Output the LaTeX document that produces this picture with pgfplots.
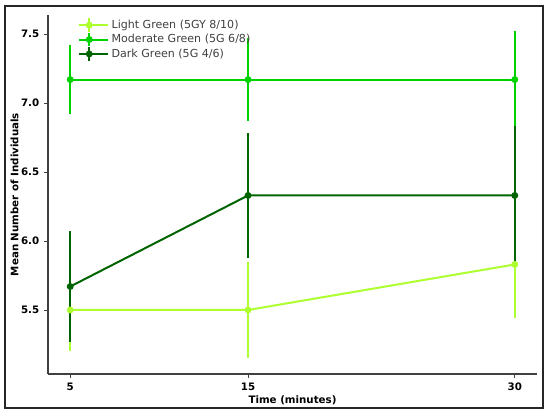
\documentclass[border=0pt]{standalone}
\usepackage{fontspec}
\setmainfont{DejaVu Sans}
\usepackage{pgfplots}
\pgfplotsset{compat=1.18}

\definecolor{lightg}{HTML}{ADFF2F}
\definecolor{modg}{HTML}{00D200}
\definecolor{darkg}{HTML}{006400}

\pgfplotsset{errleg/.style={legend image code/.code={
    \path (0pt,0pt) -- (22pt,0pt);
    \draw[line width=1.5pt] (0pt,0pt) -- (16pt,0pt);
    \draw[line width=1.5pt] (8pt,-5pt) -- (8pt,5pt);
    \fill (8pt,0pt) circle (1.8pt);}}}

\begin{document}
\begin{tikzpicture}[font=\fontsize{7.7}{9}\selectfont]
\begin{axis}[
  name=ax,
  scale only axis,
  width=366.75pt, height=269.25pt,
  xmin=3.75, xmax=31.25,
  ymin=5.036, ymax=7.638,
  axis x line*=bottom, axis y line*=left,
  axis line style={black!75, line width=0.8pt},
  xtick={5,15,30},
  ytick={5.5,6.0,6.5,7.0,7.5},
  tick align=outside,
  major tick length=3pt,
  tick style={black!75, line width=0.7pt},
  tick label style={font=\fontsize{7.7}{9}\selectfont\bfseries},
  yticklabel style={/pgf/number format/.cd, fixed, fixed zerofill, precision=1, assume math mode=true},
  xticklabel style={/pgf/number format/assume math mode=true},
  xlabel={\bfseries Time (minutes)},
  ylabel={\bfseries Mean Number of Individuals},
  xlabel style={yshift=3pt},
  ylabel style={yshift=-5pt},
  legend style={draw=none, fill=none, at={(axis description cs:0,1)}, anchor=north west,
    xshift=19pt, yshift=0.5pt, row sep=-1pt,
    font=\fontsize{8.3}{10}\selectfont, text=black!75},
  legend cell align=left,
  every axis plot/.append style={line width=1.5pt, mark=*, mark size=1.8pt},
  error bars/y dir=both, error bars/y explicit,
  error bars/error mark=none,
]
\addplot[lightg, errleg, error bars/error bar style={lightg, line width=1.5pt}]
  table[x=t, y=m, y error=e] {
t  m     e
5  5.50  0.30
15 5.50  0.35
30 5.83  0.39
};
\addlegendentry{Light Green (5GY 8/10)}
\addplot[modg, errleg, error bars/error bar style={modg, line width=1.5pt}]
  table[x=t, y=m, y error=e] {
t  m     e
5  7.17  0.25
15 7.17  0.30
30 7.17  0.35
};
\addlegendentry{Moderate Green (5G 6/8)}
\addplot[darkg, errleg, error bars/error bar style={darkg, line width=1.5pt}]
  table[x=t, y=m, y error=e] {
t  m     e
5  5.67  0.40
15 6.33  0.45
30 6.33  0.50
};
\addlegendentry{Dark Green (5G 4/6)}
\end{axis}
% outer frame of the figure
\draw[black!85, line width=1.5pt]
  ([shift={(-32.25pt,-25.5pt)}]ax.south west) rectangle ([shift={(4.5pt,6.75pt)}]ax.north east);
\useasboundingbox ([shift={(-36pt,-30.75pt)}]ax.south west) rectangle ([shift={(9.75pt,11.25pt)}]ax.north east);
\end{tikzpicture}
\end{document}
